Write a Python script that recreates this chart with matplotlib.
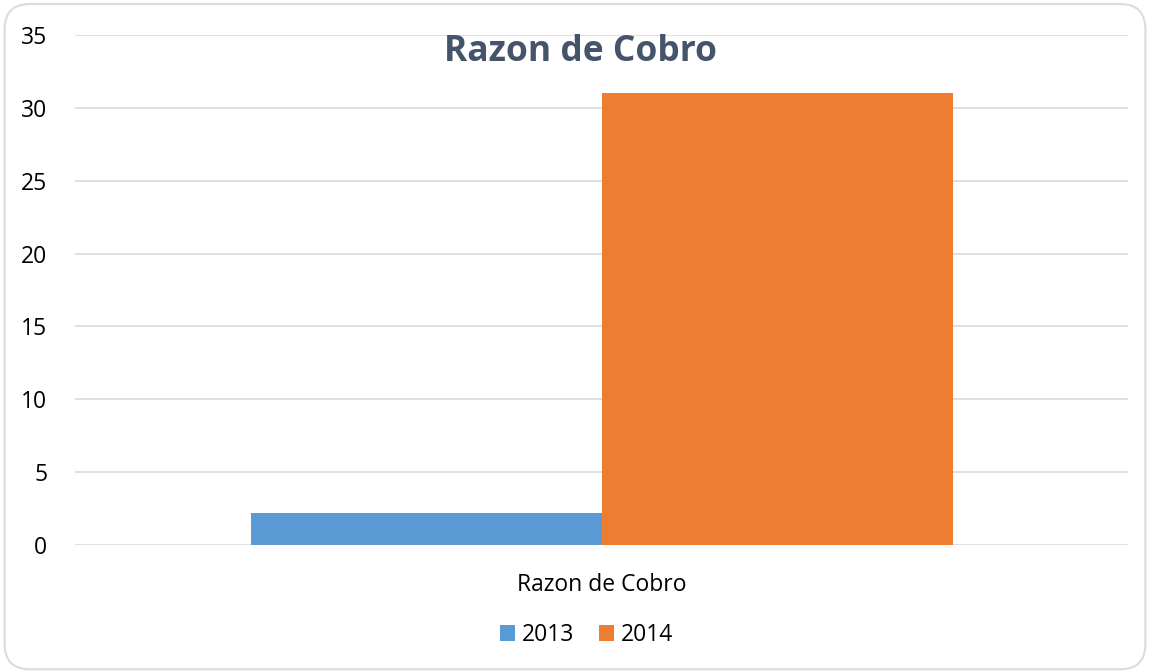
import matplotlib.pyplot as plt
from matplotlib.patches import FancyBboxPatch

categorias = ['Razon de Cobro']
anos = ['2013', '2014']
valores_2013 = [2.2]
valores_2014 = [31.0]
cores = ['#5B9BD5', '#ED7D31']

plt.rcParams['font.family'] = ['Open Sans', 'DejaVu Sans']

fig = plt.figure(figsize=(11.5, 6.72), dpi=100)

# borda arredondada do gráfico (atrás dos eixos)
borda = FancyBboxPatch((0.004, 0.004), 0.992, 0.99, boxstyle='round,pad=0,rounding_size=0.022',
                       transform=fig.transFigure, facecolor='white', edgecolor='#D9DCE3',
                       linewidth=1.5, mutation_aspect=1150/672, zorder=-10)
fig.patches.append(borda)

ax = fig.add_axes([0.0652, 0.189, 0.916, 0.759])
ax.set_facecolor('none')

largura = 1 / 3
x = range(len(categorias))
ax.bar([i - largura / 2 for i in x], valores_2013, largura, color=cores[0], label=anos[0], zorder=3)
ax.bar([i + largura / 2 for i in x], valores_2014, largura, color=cores[1], label=anos[1], zorder=3)

ax.set_xlim(-0.5, 0.5)
ax.set_ylim(0, 35)
ax.set_yticks(range(0, 36, 5))
ax.set_xticks(list(x))
ax.set_xticklabels(categorias)
ax.tick_params(axis='both', length=0, labelsize=16.5, colors='black')
ax.tick_params(axis='y', pad=20)
ax.tick_params(axis='x', pad=20)
ax.grid(axis='y', color='#D9DCE3', linewidth=1.3, zorder=0)
for s in ax.spines.values():
    s.set_visible(False)

fig.text(0.505, 0.922, 'Razon de Cobro', ha='center', va='center', fontsize=25.5,
         fontweight='bold', color='#44546A')

fig.legend(loc='center', bbox_to_anchor=(0.51, 0.055), ncol=2, frameon=False,
           fontsize=16.5, handlelength=0.65, handleheight=0.65, handletextpad=0.3,
           columnspacing=1.1)

fig.savefig('out.png', dpi=100)
